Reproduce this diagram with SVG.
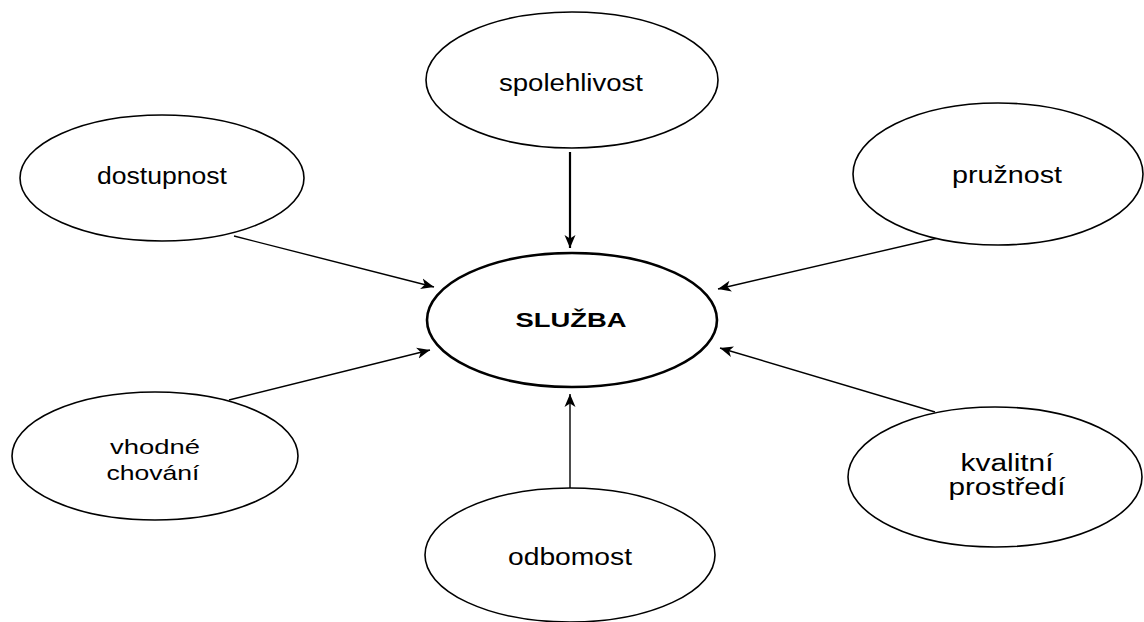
<svg xmlns="http://www.w3.org/2000/svg" width="1144" height="622" viewBox="0 0 1144 622">
  <style>
    .node ellipse { fill: #ffffff; stroke: #000000; stroke-width: 1.6; }
    #sluzba ellipse { stroke-width: 2.6; }
    .lbl { font-family: "Liberation Sans", Arial, sans-serif; font-size: 23px; fill: #000000; text-anchor: middle; }
    .lbl2 { font-family: "Liberation Sans", Arial, sans-serif; font-size: 21px; fill: #000000; text-anchor: middle; }
    .hub { font-family: "Liberation Sans", Arial, sans-serif; font-size: 21px; font-weight: bold; fill: #000000; text-anchor: middle; }
    .edge { stroke: #000000; stroke-width: 1.4; fill: none; marker-end: url(#arrow); }
  </style>
  <defs>
    <marker id="arrow" markerUnits="userSpaceOnUse" markerWidth="16" markerHeight="12" refX="13" refY="6" orient="auto">
      <path d="M0,0.5 L13,6 L0,11.5 L3.5,6 Z" fill="#000000"/>
    </marker>
  </defs>
  <rect width="1144" height="622" fill="#ffffff"/>

  <!-- connectors: every factor points into the central node -->
  <g id="connectors">
    <line class="edge" x1="570" y1="152" x2="570" y2="248" style="stroke-width:2.2"/>
    <line class="edge" x1="234" y1="236" x2="434" y2="287"/>
    <line class="edge" x1="938" y1="238" x2="718" y2="289"/>
    <line class="edge" x1="229" y1="400" x2="430" y2="350"/>
    <line class="edge" x1="935" y1="412" x2="720" y2="348"/>
    <line class="edge" x1="570" y1="488" x2="570" y2="394"/>
  </g>

  <g id="sluzba" class="node">
    <ellipse cx="572" cy="320" rx="145" ry="67"/>
    <text class="hub" x="571" y="327" textLength="111" lengthAdjust="spacingAndGlyphs">SLUŽBA</text>
  </g>

  <g id="spolehlivost" class="node">
    <ellipse cx="572" cy="80" rx="146" ry="68"/>
    <text class="lbl" x="571" y="91" textLength="144" lengthAdjust="spacingAndGlyphs">spolehlivost</text>
  </g>

  <g id="dostupnost" class="node">
    <ellipse cx="162" cy="178" rx="142" ry="63"/>
    <text class="lbl" x="162" y="184" textLength="130" lengthAdjust="spacingAndGlyphs">dostupnost</text>
  </g>

  <g id="pruznost" class="node">
    <ellipse cx="998" cy="174" rx="145" ry="71"/>
    <text class="lbl" x="1007" y="183" textLength="110" lengthAdjust="spacingAndGlyphs">pružnost</text>
  </g>

  <g id="vhodne-chovani" class="node">
    <ellipse cx="155" cy="456" rx="143" ry="64"/>
    <text class="lbl2" x="155" y="454" textLength="90" lengthAdjust="spacingAndGlyphs">vhodné</text>
    <text class="lbl2" x="153" y="480" textLength="93" lengthAdjust="spacingAndGlyphs">chování</text>
  </g>

  <g id="kvalitni-prostredi" class="node">
    <ellipse cx="995" cy="477" rx="147" ry="70"/>
    <text class="lbl" x="1007" y="471" textLength="93" lengthAdjust="spacingAndGlyphs">kvalitní</text>
    <text class="lbl" x="1007" y="495" textLength="117" lengthAdjust="spacingAndGlyphs">prostředí</text>
  </g>

  <g id="odbornost" class="node">
    <ellipse cx="570" cy="555" rx="145" ry="67"/>
    <text class="lbl" x="570" y="565" textLength="124" lengthAdjust="spacingAndGlyphs">odbomost</text>
  </g>
</svg>
